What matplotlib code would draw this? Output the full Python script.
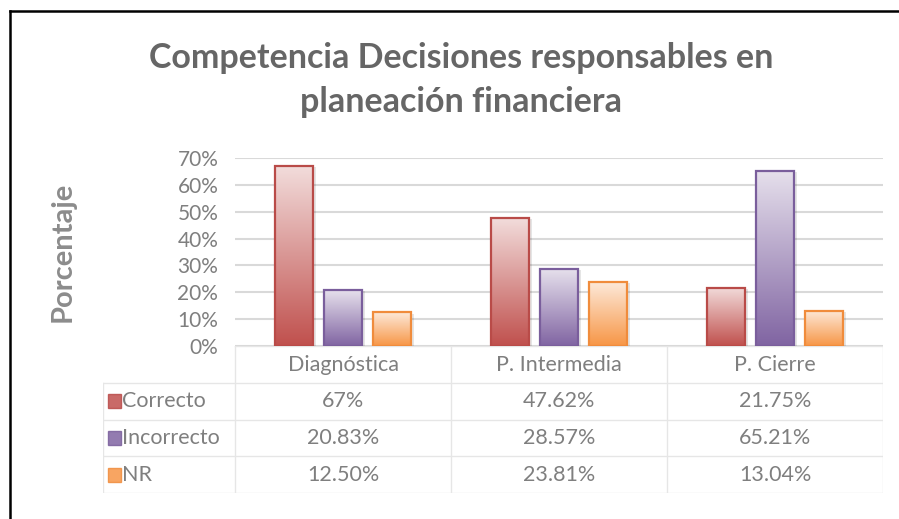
import numpy as np
import matplotlib
matplotlib.use("Agg")
import matplotlib.pyplot as plt
from matplotlib.colors import LinearSegmentedColormap
from matplotlib.patches import Rectangle
from matplotlib.lines import Line2D

plt.rcParams['font.family'] = ['Lato', 'DejaVu Sans']

# ---- data ----
categories = ["Diagnóstica", "P. Intermedia", "P. Cierre"]
series = ["Correcto", "Incorrecto", "NR"]
correcto = [67.0, 47.62, 21.75]
incorrecto = [20.83, 28.57, 65.21]
nr = [12.50, 23.81, 13.04]
table_labels = [["67%", "47.62%", "21.75%"],
                ["20.83%", "28.57%", "65.21%"],
                ["12.50%", "23.81%", "13.04%"]]
yticks = [0, 10, 20, 30, 40, 50, 60, 70]
title = "Competencia Decisiones responsables en\nplaneación financiera"
ylabel = "Porcentaje"

values = [correcto, incorrecto, nr]
base_colors = ["#C0504D", "#8064A2", "#F79646"]
light_colors = ["#F2DCDB", "#E6E0EC", "#FDE9D9"]
edge_colors = ["#B94B48", "#7A5E9C", "#F08C3C"]
grey = "#7F7F7F"

W, H = 899, 519
fig = plt.figure(figsize=(W / 100, H / 100), dpi=100)

# outer frame (only top and left visible in the crop)
fig.add_artist(Line2D([10 / W, 1.01], [1 - 11 / H, 1 - 11 / H], color="black", lw=1.8))
fig.add_artist(Line2D([10 / W, 10 / W], [-0.01, 1 - 11 / H], color="black", lw=1.8))

# ---- main axes ----
ax = fig.add_axes([235 / W, 173 / H, 648 / W, 188 / H])
for s in ax.spines.values():
    s.set_visible(False)
ax.set_yticks(yticks)
ax.set_yticklabels([f"{t}%" for t in yticks], color=grey, fontsize=15)
ax.tick_params(axis="y", length=0, pad=12)
ax.set_xticks([])
ax.yaxis.grid(True, color="#D9D9D9", lw=1.5)
ax.set_axisbelow(True)

x = np.arange(len(categories))
width = 0.176
step = 0.227
for i, vals in enumerate(values):
    pos = x + (i - 1) * step
    cmap = LinearSegmentedColormap.from_list(f"g{i}", [base_colors[i], light_colors[i]])
    # soft shadow
    ax.bar(pos + 0.012, vals, width, bottom=-0.4, color="#000000", alpha=0.10, zorder=2)
    bars = ax.bar(pos, vals, width, color="none", edgecolor=edge_colors[i], lw=1.6, zorder=4)
    for b in bars:
        bx, bw, bh = b.get_x(), b.get_width(), b.get_height()
        grad = np.linspace(0, 1, 256).reshape(-1, 1)
        im = ax.imshow(grad, cmap=cmap, origin="lower", aspect="auto",
                       extent=(bx, bx + bw, 0, bh), zorder=3)
        im.set_clip_path(b)
ax.set_xlim(-0.5, len(categories) - 0.5)
ax.set_ylim(0, 70)

fig.text(63 / W, 1 - 252 / H, ylabel, rotation=90, ha="center", va="center",
         fontsize=21, fontweight="bold", color="#8C8C8C")
fig.text(461 / W, 1 - 80 / H, title, ha="center", va="center", fontsize=24.5,
         fontweight="bold", color="#666666", linespacing=1.5)

# ---- data table ----
label_w = 132 / 216
tax = fig.add_axes([103 / W, 26 / H, 780 / W, 147 / H])
tax.set_xlim(-0.5 - label_w, len(categories) - 0.5)
tax.set_ylim(4, 0)
tax.axis("off")
line_kw = dict(color="#E6E6E6", lw=1.0)
xr = len(categories) - 0.5
tax.plot([-0.5, xr], [0, 0], **line_kw)
for r in range(1, 5):
    tax.plot([-0.5 - label_w, xr], [r, r], **line_kw)
for c in range(len(categories) + 1):
    tax.plot([c - 0.5, c - 0.5], [0, 4], **line_kw)
tax.plot([-0.5 - label_w, -0.5 - label_w], [1, 4], **line_kw)

for j, cat in enumerate(categories):
    tax.text(j, 0.52, cat, ha="center", va="center", fontsize=15.5, color=grey)
for i, name in enumerate(series):
    row = i + 1.5
    sq_x = -0.5 - label_w + 0.025
    tax.add_patch(Rectangle((sq_x, row - 0.19), 0.058, 0.38, facecolor=base_colors[i],
                            edgecolor=edge_colors[i], lw=1.0, alpha=0.85))
    tax.text(sq_x + 0.064, row, name, ha="left", va="center", fontsize=15.5, color=grey)
    for j in range(len(categories)):
        tax.text(j, row, table_labels[i][j], ha="center", va="center", fontsize=15.5, color=grey)

fig.savefig("out.png", dpi=100)
